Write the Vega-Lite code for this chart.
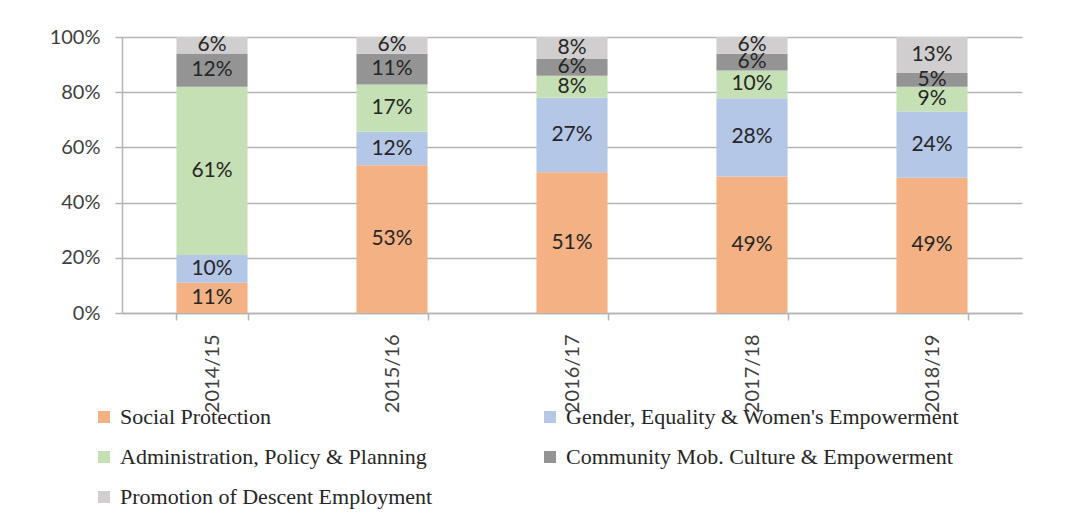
{
  "$schema": "https://vega.github.io/schema/vega-lite/v6.json",
  "width": 900,
  "height": 276,
  "autosize": {"type": "none"},
  "padding": {"left": 122, "top": 37, "right": 43, "bottom": 213},
  "background": "white",
  "data": {
    "values": [
      {"year": "2014/15", "series": "Social Protection", "rank": 1, "v": 0.11},
      {"year": "2014/15", "series": "Gender, Equality & Women's Empowerment", "rank": 2, "v": 0.10},
      {"year": "2014/15", "series": "Administration, Policy & Planning", "rank": 3, "v": 0.61},
      {"year": "2014/15", "series": "Community Mob. Culture & Empowerment", "rank": 4, "v": 0.12},
      {"year": "2014/15", "series": "Promotion of Descent Employment", "rank": 5, "v": 0.06},
      {"year": "2015/16", "series": "Social Protection", "rank": 1, "v": 0.53},
      {"year": "2015/16", "series": "Gender, Equality & Women's Empowerment", "rank": 2, "v": 0.12},
      {"year": "2015/16", "series": "Administration, Policy & Planning", "rank": 3, "v": 0.17},
      {"year": "2015/16", "series": "Community Mob. Culture & Empowerment", "rank": 4, "v": 0.11},
      {"year": "2015/16", "series": "Promotion of Descent Employment", "rank": 5, "v": 0.06},
      {"year": "2016/17", "series": "Social Protection", "rank": 1, "v": 0.51},
      {"year": "2016/17", "series": "Gender, Equality & Women's Empowerment", "rank": 2, "v": 0.27},
      {"year": "2016/17", "series": "Administration, Policy & Planning", "rank": 3, "v": 0.08},
      {"year": "2016/17", "series": "Community Mob. Culture & Empowerment", "rank": 4, "v": 0.06},
      {"year": "2016/17", "series": "Promotion of Descent Employment", "rank": 5, "v": 0.08},
      {"year": "2017/18", "series": "Social Protection", "rank": 1, "v": 0.49},
      {"year": "2017/18", "series": "Gender, Equality & Women's Empowerment", "rank": 2, "v": 0.28},
      {"year": "2017/18", "series": "Administration, Policy & Planning", "rank": 3, "v": 0.10},
      {"year": "2017/18", "series": "Community Mob. Culture & Empowerment", "rank": 4, "v": 0.06},
      {"year": "2017/18", "series": "Promotion of Descent Employment", "rank": 5, "v": 0.06},
      {"year": "2018/19", "series": "Social Protection", "rank": 1, "v": 0.49},
      {"year": "2018/19", "series": "Gender, Equality & Women's Empowerment", "rank": 2, "v": 0.24},
      {"year": "2018/19", "series": "Administration, Policy & Planning", "rank": 3, "v": 0.09},
      {"year": "2018/19", "series": "Community Mob. Culture & Empowerment", "rank": 4, "v": 0.05},
      {"year": "2018/19", "series": "Promotion of Descent Employment", "rank": 5, "v": 0.13}
    ]
  },
  "encoding": {
    "x": {
      "field": "year",
      "type": "nominal",
      "title": null,
      "scale": {"paddingInner": 0.605, "paddingOuter": 0.3025},
      "axis": {
        "labelAngle": 270,
        "tickBand": "extent",
        "labelFont": "Lato",
        "labelFontSize": 20,
        "labelColor": "#404040",
        "labelPadding": 14,
        "tickSize": 7,
        "tickColor": "#b3b3b3",
        "tickWidth": 1.5,
        "domainColor": "#b3b3b3",
        "domainWidth": 1.5
      }
    },
    "y": {
      "field": "v",
      "type": "quantitative",
      "stack": "normalize",
      "title": null,
      "scale": {"domain": [0, 1], "nice": false},
      "axis": {
        "values": [0, 0.2, 0.4, 0.6, 0.8, 1],
        "format": ".0%",
        "labelFont": "Lato",
        "labelFontSize": 20,
        "labelColor": "#404040",
        "labelPadding": 15,
        "tickSize": 7,
        "tickColor": "#b3b3b3",
        "tickWidth": 1.5,
        "domainColor": "#b3b3b3",
        "domainWidth": 1.5,
        "gridColor": "#b3b3b3",
        "gridWidth": 1.5
      }
    },
    "order": {"field": "rank", "type": "quantitative"}
  },
  "layer": [
    {
      "mark": {"type": "bar"},
      "encoding": {
        "color": {
          "field": "series",
          "type": "nominal",
          "scale": {
            "domain": ["Social Protection", "Administration, Policy & Planning", "Promotion of Descent Employment", "Gender, Equality & Women's Empowerment", "Community Mob. Culture & Empowerment"],
            "range": ["#F4B183", "#C5E0B4", "#D0CECE", "#B4C7E7", "#949494"]
          },
          "legend": {
            "title": null,
            "orient": "none",
            "legendX": -29,
            "legendY": 369,
            "columns": 2,
            "columnPadding": 106,
            "rowPadding": 18,
            "symbolType": "square",
            "symbolSize": 144,
            "symbolStrokeWidth": 0,
            "labelFont": "Liberation Serif",
            "labelFontSize": 22,
            "labelColor": "#262626",
            "labelOffset": 5,
            "labelLimit": 500,
            "padding": 0
          }
        }
      }
    },
    {
      "mark": {"type": "text", "font": "Lato", "fontSize": 21, "color": "#262626", "baseline": "middle"},
      "encoding": {
        "y": {"field": "v", "type": "quantitative", "stack": "normalize", "bandPosition": 0.5},
        "text": {"field": "v", "type": "quantitative", "format": ".0%"}
      }
    }
  ],
  "config": {"view": {"stroke": null}}
}
